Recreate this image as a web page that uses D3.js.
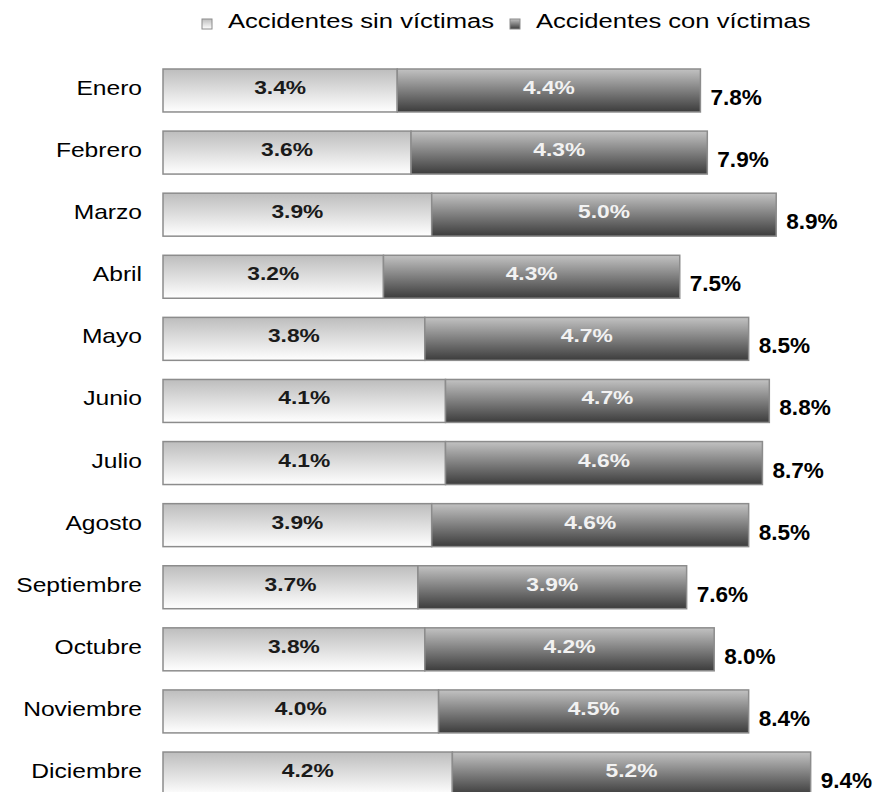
<!DOCTYPE html>
<html>
<head>
<meta charset="utf-8">
<script src="https://cdn.jsdelivr.net/npm/d3@7"></script>
<style>
    body { margin: 0; background: #fff; }
    text { font-family: "Liberation Sans", Arial, sans-serif; }
</style>
</head>
<body>
<div id="chart"></div>
<script>
const months = ["Enero", "Febrero", "Marzo", "Abril", "Mayo", "Junio", "Julio",
    "Agosto", "Septiembre", "Octubre", "Noviembre", "Diciembre"];
const sinVictimas = [3.4, 3.6, 3.9, 3.2, 3.8, 4.1, 4.1, 3.9, 3.7, 3.8, 4.0, 4.2];
const conVictimas = [4.4, 4.3, 5.0, 4.3, 4.7, 4.7, 4.6, 4.6, 3.9, 4.2, 4.5, 5.2];
const totals = [7.8, 7.9, 8.9, 7.5, 8.5, 8.8, 8.7, 8.5, 7.6, 8.0, 8.4, 9.4];
const seriesNames = ["Accidentes sin víctimas", "Accidentes con víctimas"];

const width = 877, height = 792;
const fmt = v => v.toFixed(1) + "%";

const svg = d3.select("#chart").append("svg")
    .attr("width", width)
    .attr("height", height);

// gradients, light one for "sin", dark one for "con"
const defs = svg.append("defs");
function gradient(id, top, bottom) {
    const g = defs.append("linearGradient")
        .attr("id", id)
        .attr("x1", 0).attr("y1", 0)
        .attr("x2", 0).attr("y2", 1);
    g.append("stop").attr("offset", "0%").attr("stop-color", top);
    g.append("stop").attr("offset", "100%").attr("stop-color", bottom);
}
gradient("gLight", "#bdbdbd", "#ffffff");
gradient("gDark", "#c2c2c2", "#3c3c3c");
const fills = ["url(#gLight)", "url(#gDark)"];

const x = d3.scaleLinear().domain([0, 10]).range([163, 163 + 689]);
const y = d3.scaleBand().domain(months).range([69, 795]).paddingInner(0.308);

const rows = months.map((m, i) => ({
    month: m, sin: sinVictimas[i], con: conVictimas[i], total: totals[i]
}));

const row = svg.selectAll("g.row")
    .data(rows)
    .enter().append("g")
    .attr("class", "row");

row.append("rect")
    .attr("x", x(0))
    .attr("y", d => y(d.month))
    .attr("width", d => x(d.sin) - x(0))
    .attr("height", y.bandwidth())
    .attr("fill", fills[0])
    .attr("stroke", "#8c8c8c")
    .attr("stroke-width", 1.5);

row.append("rect")
    .attr("x", d => x(d.sin))
    .attr("y", d => y(d.month))
    .attr("width", d => x(d.sin + d.con) - x(d.sin))
    .attr("height", y.bandwidth())
    .attr("fill", fills[1])
    .attr("stroke", "#8c8c8c")
    .attr("stroke-width", 1.5);

// labels inside the segments
row.append("text")
    .attr("transform", d => "translate(" + (x(0) + x(d.sin)) / 2 + "," + (y(d.month) + 25) + ") scale(1.2,1)")
    .attr("text-anchor", "middle")
    .attr("font-size", 19)
    .attr("font-weight", "bold")
    .attr("fill", "#1a1a1a")
    .text(d => fmt(d.sin));

row.append("text")
    .attr("transform", d => "translate(" + (x(d.sin) + x(d.sin + d.con)) / 2 + "," + (y(d.month) + 25) + ") scale(1.2,1)")
    .attr("text-anchor", "middle")
    .attr("font-size", 19)
    .attr("font-weight", "bold")
    .attr("fill", "#f2f2f2")
    .text(d => fmt(d.con));

// totals on the right
row.append("text")
    .attr("transform", d => "translate(" + (x(d.sin + d.con) + 10) + "," + (y(d.month) + 36) + ") scale(1.05,1)")
    .attr("font-size", 21.5)
    .attr("font-weight", "bold")
    .attr("fill", "#000")
    .text(d => fmt(d.total));

// month names
row.append("text")
    .attr("transform", d => "translate(142," + (y(d.month) + 26) + ") scale(1.2,1)")
    .attr("text-anchor", "end")
    .attr("font-size", 20.5)
    .attr("fill", "#000")
    .text(d => d.month);

// legend
const legendX = [202, 510];
const legend = svg.selectAll("g.legend")
    .data(seriesNames)
    .enter().append("g")
    .attr("class", "legend");

legend.append("rect")
    .attr("x", (d, i) => legendX[i])
    .attr("y", 19)
    .attr("width", 10)
    .attr("height", 10)
    .attr("fill", (d, i) => fills[i])
    .attr("stroke", "#8c8c8c")
    .attr("stroke-width", 1);

legend.append("text")
    .attr("transform", (d, i) => "translate(" + (legendX[i] + 26) + ",28) scale(1.28,1)")
    .attr("font-size", 20)
    .attr("fill", "#000")
    .text(d => d);
</script>
</body>
</html>
